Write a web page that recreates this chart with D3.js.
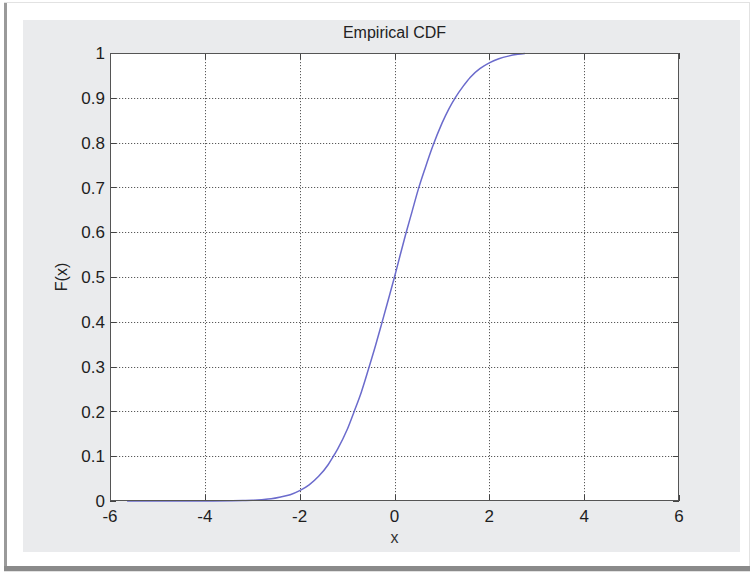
<!DOCTYPE html>
<html>
<head>
<meta charset="utf-8">
<script src="https://cdn.jsdelivr.net/npm/d3@7"></script>
<style>
	body { margin: 0; background: #fff; }
	svg { display: block; font-family: "Liberation Sans", Arial, sans-serif; }
</style>
</head>
<body>
<script>
// values
const xs = [-5.64, -4, -3.2, -3, -2.8, -2.6, -2.4, -2.2, -2, -1.8, -1.6, -1.4, -1.3, -1.2, -1, -0.85, -0.7, -0.55, -0.4, -0.27, -0.15, 0, 0.12, 0.24, 0.37, 0.5, 0.65, 0.8, 1.0, 1.15, 1.28, 1.45, 1.6, 1.8, 2.0, 2.2, 2.4, 2.6, 2.75];
const Fs = [0, 0, 0.001, 0.0015, 0.003, 0.005, 0.009, 0.014, 0.023, 0.036, 0.055, 0.081, 0.098, 0.116, 0.159, 0.2, 0.243, 0.294, 0.347, 0.396, 0.442, 0.5, 0.549, 0.597, 0.646, 0.695, 0.744, 0.79, 0.843, 0.876, 0.9, 0.926, 0.946, 0.965, 0.978, 0.987, 0.993, 0.997, 0.999];
const xTicks = [-6, -4, -2, 0, 2, 4, 6];
const yTicks = [0, 0.1, 0.2, 0.3, 0.4, 0.5, 0.6, 0.7, 0.8, 0.9, 1];
const title = "Empirical CDF";
const xLabel = "x";
const yLabel = "F(x)";

const data = xs.map((x, i) => ({x: x, F: Fs[i]}));

const W = 751, H = 573;
const plot = {left: 110, right: 679, top: 53, bottom: 501};

const svg = d3.select("body").append("svg")
	.attr("width", W)
	.attr("height", H);

//outer frame + shadow
svg.append("rect").attr("x", 4).attr("y", 2).attr("width", 746).attr("height", 570).attr("fill", "#e2e2e2");
svg.append("rect").attr("x", 4).attr("y", 3).attr("width", 3).attr("height", 568).attr("fill", "#9a9a9a");
svg.append("rect").attr("x", 4).attr("y", 566).attr("width", 746).attr("height", 5).attr("fill", "#8a8a8a");
svg.append("rect").attr("x", 7).attr("y", 3).attr("width", 742).attr("height", 563).attr("fill", "#fff");

//figure gray
svg.append("rect")
	.attr("x", 23).attr("y", 20)
	.attr("width", 740 - 23).attr("height", 552 - 20)
	.attr("fill", "#eaebed");

//axes area
svg.append("rect")
	.attr("x", plot.left).attr("y", plot.top)
	.attr("width", plot.right - plot.left).attr("height", plot.bottom - plot.top)
	.attr("fill", "#fff");

const x = d3.scaleLinear().domain([-6, 6]).range([plot.left, plot.right]);
const y = d3.scaleLinear().domain([0, 1]).range([plot.bottom, plot.top]);

//grid
const grid = svg.append("g")
	.attr("stroke", "#5a5a5a")
	.attr("stroke-width", 1)
	.attr("stroke-dasharray", "1.2,1.8");
grid.selectAll(".gx")
	.data(xTicks.slice(1, -1))
	.join("line")
		.attr("x1", d => Math.round(x(d)) + 0.5).attr("x2", d => Math.round(x(d)) + 0.5)
		.attr("y1", plot.top).attr("y2", plot.bottom);
grid.selectAll(".gy")
	.data(yTicks.slice(1, -1))
	.join("line")
		.attr("y1", d => Math.round(y(d)) + 0.5).attr("y2", d => Math.round(y(d)) + 0.5)
		.attr("x1", plot.left).attr("x2", plot.right);

//inward ticks
const tl = 6;
const ticks = svg.append("g").attr("stroke", "#444").attr("stroke-width", 1);
xTicks.forEach(d => {
	const px = Math.round(x(d)) + 0.5;
	ticks.append("line").attr("x1", px).attr("x2", px).attr("y1", plot.bottom).attr("y2", plot.bottom - tl);
	ticks.append("line").attr("x1", px).attr("x2", px).attr("y1", plot.top).attr("y2", plot.top + tl);
});
yTicks.forEach(d => {
	const py = Math.round(y(d)) + 0.5;
	ticks.append("line").attr("y1", py).attr("y2", py).attr("x1", plot.left).attr("x2", plot.left + tl);
	ticks.append("line").attr("y1", py).attr("y2", py).attr("x1", plot.right).attr("x2", plot.right - tl);
});

//curve
const line = d3.line()
	.x(d => x(d.x))
	.y(d => y(d.F))
	.curve(d3.curveMonotoneX);

svg.append("path")
	.datum(data)
	.attr("fill", "none")
	.attr("stroke", "#6b6bcc")
	.attr("stroke-width", 1.5)
	.attr("d", line);

//box
svg.append("rect")
	.attr("x", plot.left + 0.5).attr("y", plot.top + 0.5)
	.attr("width", plot.right - plot.left - 1).attr("height", plot.bottom - plot.top - 1)
	.attr("fill", "none")
	.attr("stroke", "#555");

//tick labels
const labels = svg.append("g").attr("font-size", 17).attr("fill", "#1e1e1e");
labels.selectAll(".xl")
	.data(xTicks)
	.join("text")
		.attr("x", d => x(d))
		.attr("y", 522)
		.attr("text-anchor", "middle")
		.text(d => d < 0 ? "-" + Math.abs(d) : d);
labels.selectAll(".yl")
	.data(yTicks)
	.join("text")
		.attr("x", plot.left - 5)
		.attr("y", d => y(d))
		.attr("dy", "0.36em")
		.attr("text-anchor", "end")
		.text(d => d3.format("")(d));

//title + axis labels
svg.append("text")
	.attr("x", (plot.left + plot.right) / 2)
	.attr("y", 38)
	.attr("text-anchor", "middle")
	.attr("font-size", 16)
	.attr("fill", "#222")
	.text(title);

svg.append("text")
	.attr("x", (plot.left + plot.right) / 2)
	.attr("y", 543)
	.attr("text-anchor", "middle")
	.attr("font-size", 16)
	.attr("fill", "#333")
	.text(xLabel);

svg.append("text")
	.attr("transform", `translate(67,${(plot.top + plot.bottom) / 2}) rotate(-90)`)
	.attr("text-anchor", "middle")
	.attr("font-size", 16)
	.attr("fill", "#222")
	.text(yLabel);
</script>
</body>
</html>
